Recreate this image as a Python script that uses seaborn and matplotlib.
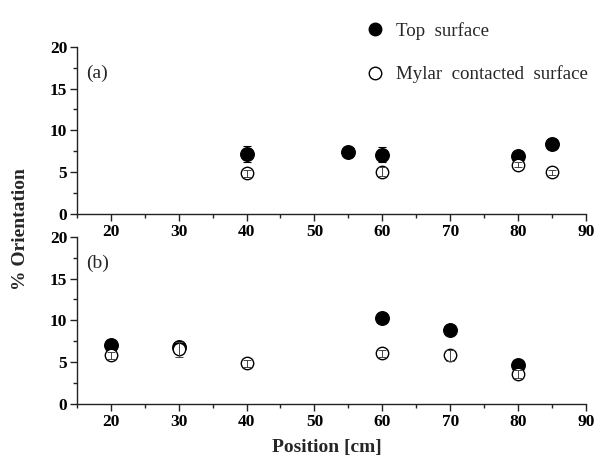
import numpy as np
import pandas as pd
import seaborn as sns
from matplotlib import pyplot as plt
from matplotlib.lines import Line2D
from matplotlib.ticker import MultipleLocator

sns.set_style("ticks")
plt.rcParams['font.family'] = ['Liberation Serif', 'DejaVu Serif']

# panel (a)
a_top_pos = [40, 55, 60, 80, 85]
a_top_val = [7.15, 7.45, 7.05, 6.95, 8.4]
a_top_err = [1.0, 0.4, 0.9, 0.3, 0.2]
a_myl_pos = [40, 60, 80, 85]
a_myl_val = [4.85, 5.05, 5.85, 5.0]
a_myl_err = [0.4, 0.5, 0.3, 0.3]

# panel (b)
b_top_pos = [20, 30, 60, 70, 80]
b_top_val = [7.05, 6.8, 10.25, 8.85, 4.65]
b_top_err = [0.3, 0.4, 0.5, 0.3, 0.3]
b_myl_pos = [20, 30, 40, 60, 70, 80]
b_myl_val = [5.8, 6.55, 4.85, 6.05, 5.8, 3.55]
b_myl_err = [0.4, 0.9, 0.4, 0.4, 0.7, 0.5]

series_names = ["Top  surface", "Mylar  contacted  surface"]

fig = plt.figure(figsize=(5.96, 4.58), dpi=100)
ax1 = fig.add_axes([0.129, 0.533, 0.854, 0.365])
ax2 = fig.add_axes([0.129, 0.118, 0.854, 0.365])


def draw_panel(ax, tp, tv, te, mp, mv, me, tag):
    top = pd.DataFrame({"x": tp, "y": tv})
    myl = pd.DataFrame({"x": mp, "y": mv})
    ax.errorbar(tp, tv, yerr=te, fmt='none', ecolor='black', elinewidth=0.8,
                capsize=3, capthick=0.8, zorder=2)
    sns.scatterplot(data=top, x="x", y="y", ax=ax, color='black',
                    edgecolor='black', s=95, linewidth=1.0, zorder=3)
    sns.scatterplot(data=myl, x="x", y="y", ax=ax, facecolor='white',
                    edgecolor='black', s=80, linewidth=1.0, zorder=4)
    ax.errorbar(mp, mv, yerr=me, fmt='none', ecolor='#444444', elinewidth=0.7,
                capsize=3, capthick=0.7, zorder=5)
    ax.set_xlim(15, 90)
    ax.set_ylim(0, 20)
    ax.xaxis.set_major_locator(MultipleLocator(10))
    ax.xaxis.set_minor_locator(MultipleLocator(5))
    ax.yaxis.set_major_locator(MultipleLocator(5))
    ax.yaxis.set_minor_locator(MultipleLocator(2.5))
    ax.tick_params(which='major', direction='out', length=5, width=1,
                   labelsize=12.5, colors='#222222', labelcolor='black', pad=2)
    ax.tick_params(which='minor', direction='out', length=3, width=1, colors='#222222')
    for lab in ax.get_xticklabels() + ax.get_yticklabels():
        lab.set_fontweight('bold')
    for sp in ['top', 'right']:
        ax.spines[sp].set_visible(False)
    for sp in ['left', 'bottom']:
        ax.spines[sp].set_linewidth(1.0)
        ax.spines[sp].set_color('#222222')
    ax.set_xlabel("")
    ax.set_ylabel("")
    ax.text(16.3, 16.8, tag, fontsize=14, va='center', ha='left')


draw_panel(ax1, a_top_pos, a_top_val, a_top_err, a_myl_pos, a_myl_val, a_myl_err, "(a)")
draw_panel(ax2, b_top_pos, b_top_val, b_top_err, b_myl_pos, b_myl_val, b_myl_err, "(b)")

fig.text(0.035, 0.5, "% Orientation", rotation=90, fontsize=14,
         fontweight='bold', ha='center', va='center')
fig.text(0.548, 0.022, "Position [cm]", fontsize=14, fontweight='bold',
         ha='center', va='center')

handles = [
    Line2D([], [], marker='o', linestyle='none', markerfacecolor='black',
           markeredgecolor='black', markersize=9),
    Line2D([], [], marker='o', linestyle='none', markerfacecolor='white',
           markeredgecolor='black', markersize=9),
]
fig.legend(handles, series_names, loc='upper left', bbox_to_anchor=(0.585, 0.968),
           frameon=False, fontsize=13.6, handletextpad=0.1, labelspacing=1.35,
           borderaxespad=0)

fig.savefig("out.png", dpi=100)
